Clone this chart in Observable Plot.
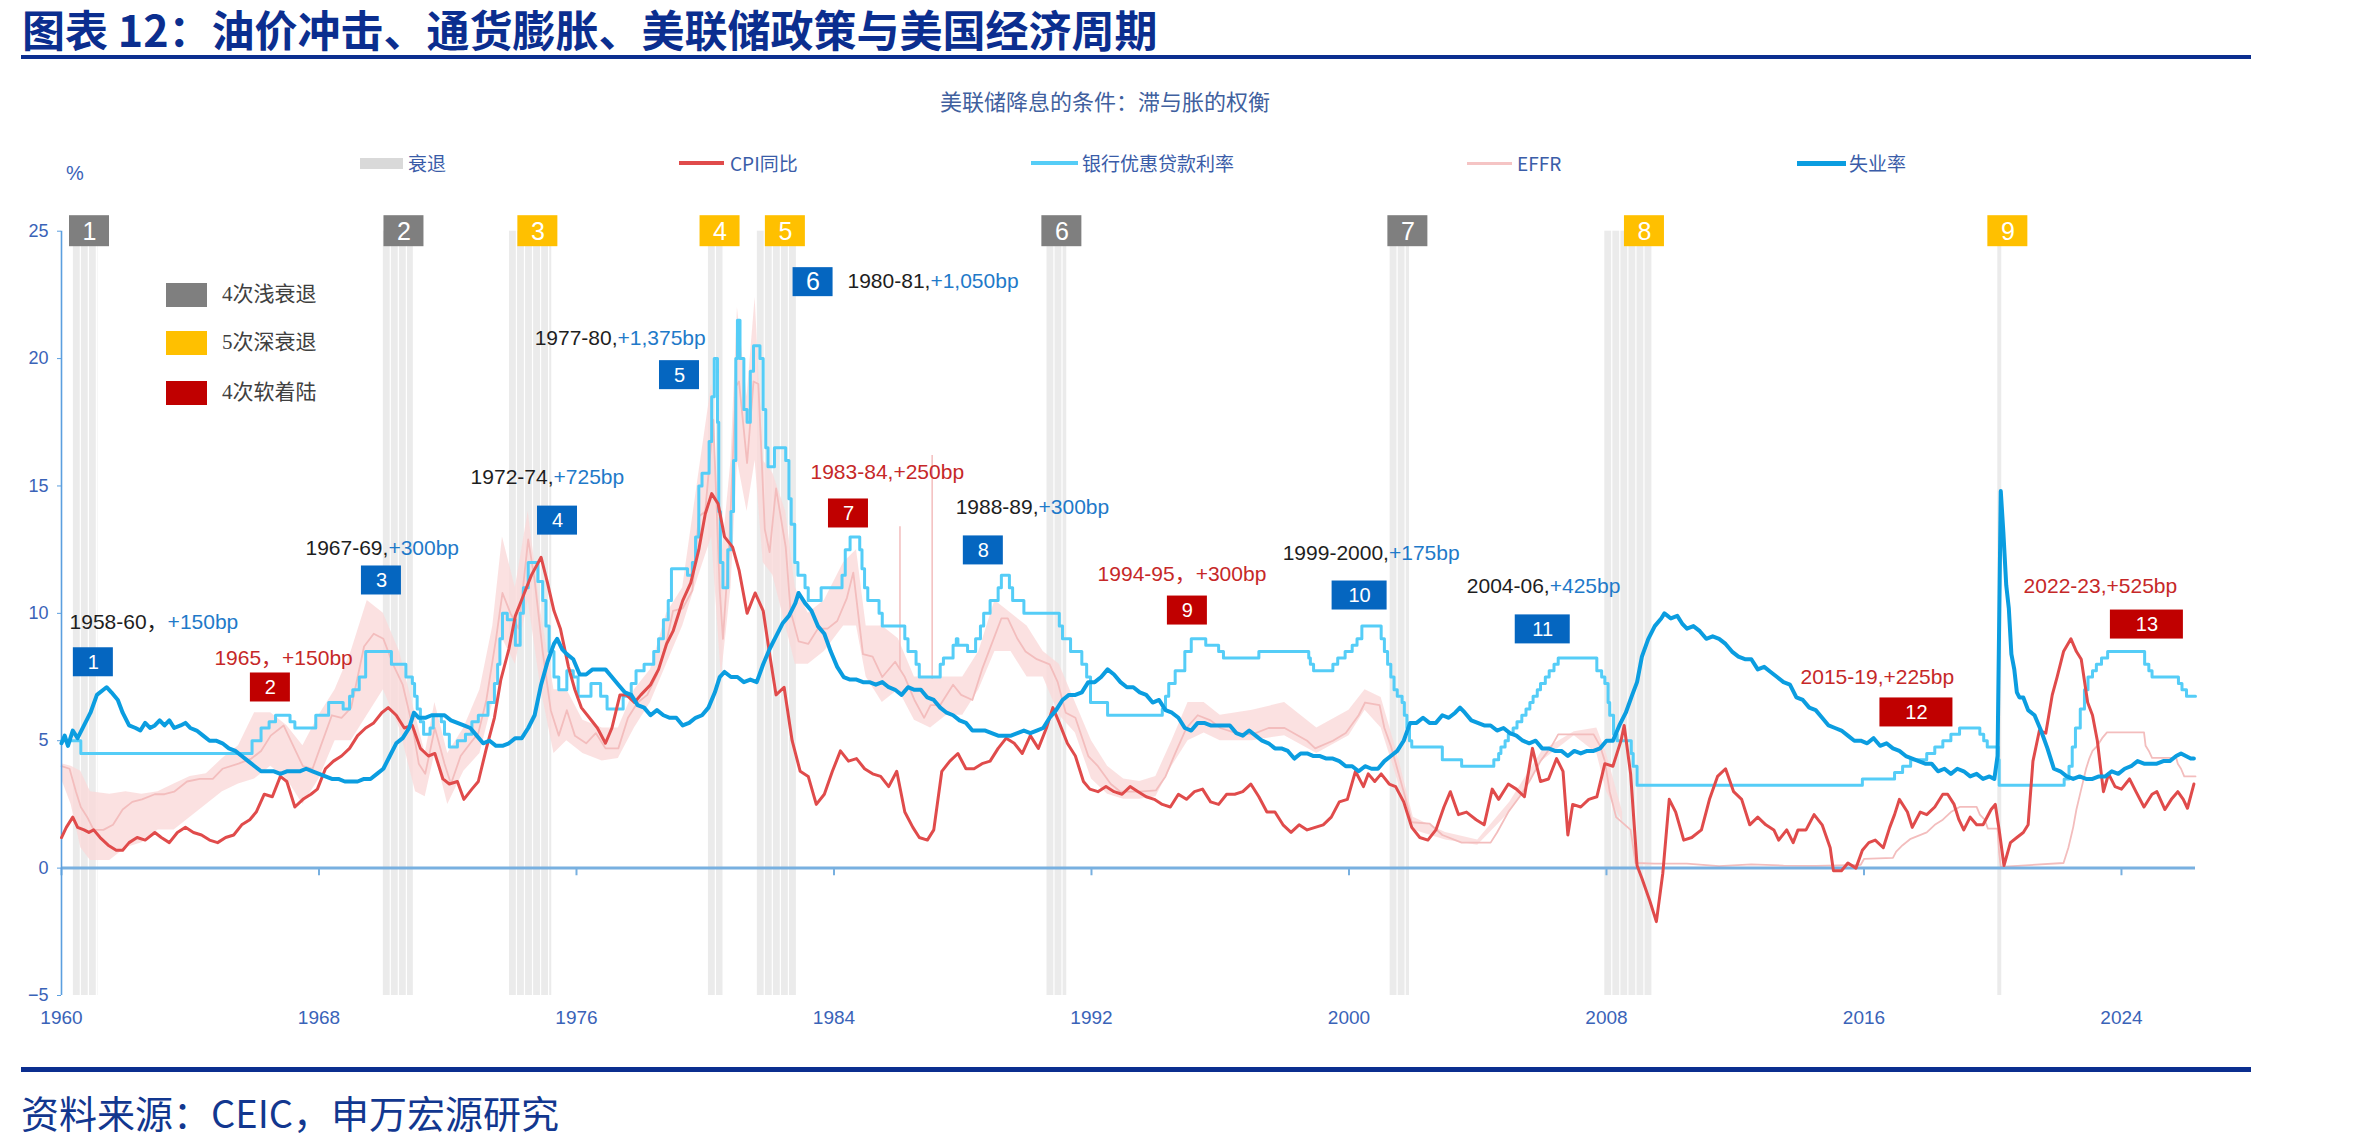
<!DOCTYPE html>
<html>
<head>
<meta charset="utf-8">
<script src="https://cdn.jsdelivr.net/npm/d3@7"></script>
<script src="https://cdn.jsdelivr.net/npm/@observablehq/plot@0.6"></script>
<style>
  html, body { margin: 0; padding: 0; background: #fff; }
  body { width: 2355px; height: 1145px; position: relative; overflow: hidden; font-family: "Noto Sans CJK SC", "Liberation Sans", sans-serif; }
  .abs { position: absolute; white-space: nowrap; }
  .leg-text { font-size: 19px; line-height: 19px; color: #3a5ca8; }
  .inleg-text { font-family: "Liberation Serif", "Noto Sans CJK SC", serif; font-size: 21px; line-height: 21px; color: #404040; }
</style>
</head>
<body>
<div class="abs" style="left:22px; top:7px; font-size:43px; line-height:43px; font-weight:700; color:#0b2e8f;">图表 12：油价冲击、通货膨胀、美联储政策与美国经济周期</div>
<div class="abs" style="left:21px; top:55px; width:2230px; height:4px; background:#0b2e8f;"></div>
<div class="abs" style="left:940px; top:89px; font-size:22px; line-height:22px; color:#40609e;">美联储降息的条件：滞与胀的权衡</div>
<div class="abs" style="left:66px; top:163px; font-family:'Liberation Sans',Arial,sans-serif; font-size:20px; line-height:20px; color:#3a63b8;">%</div>
<div id="legend"></div>
<div id="chart" class="abs" style="left:0; top:195px;"></div>
<div id="inlegend"></div>
<div class="abs" style="left:21px; top:1067px; width:2230px; height:5px; background:#0b2e8f;"></div>
<div class="abs" style="left:21px; top:1093px; font-size:38px; line-height:38px; color:#12378f;">资料来源：CEIC，申万宏源研究</div>

<script>
// ---------------- DATA ----------------
// Unemployment rate (%), [year, value]
const unemployment = [
[1960.0,4.9],[1960.1,5.2],[1960.2,4.8],[1960.35,5.4],[1960.5,5.1],[1960.7,5.6],[1960.9,6.1],[1961.1,6.8],[1961.3,7.0],[1961.4,7.1],[1961.55,6.9],[1961.75,6.6],[1961.9,6.1],
[1962.1,5.6],[1962.3,5.5],[1962.45,5.4],[1962.6,5.7],[1962.75,5.5],[1962.9,5.6],[1963.05,5.8],[1963.2,5.6],[1963.35,5.8],[1963.5,5.5],[1963.7,5.6],[1963.85,5.7],
[1964.0,5.5],[1964.2,5.4],[1964.4,5.2],[1964.6,5.0],[1964.8,5.0],[1965.0,4.9],[1965.2,4.7],[1965.4,4.6],[1965.6,4.4],[1965.8,4.2],[1966.0,4.0],[1966.2,3.8],
[1966.4,3.8],[1966.6,3.8],[1966.8,3.7],[1967.0,3.8],[1967.2,3.8],[1967.4,3.8],[1967.6,3.9],[1967.8,3.8],[1968.0,3.7],[1968.2,3.6],[1968.4,3.5],[1968.6,3.5],
[1968.8,3.4],[1969.0,3.4],[1969.2,3.4],[1969.4,3.5],[1969.6,3.5],[1969.8,3.7],[1970.0,3.9],[1970.2,4.4],[1970.4,4.9],[1970.6,5.1],[1970.8,5.5],[1970.95,6.1],
[1971.1,5.9],[1971.3,5.9],[1971.5,6.0],[1971.7,6.0],[1971.9,6.0],[1972.1,5.8],[1972.3,5.7],[1972.5,5.6],[1972.7,5.5],[1972.9,5.2],[1973.1,4.9],[1973.3,5.0],
[1973.5,4.8],[1973.7,4.8],[1973.9,4.9],[1974.1,5.1],[1974.3,5.1],[1974.5,5.5],[1974.7,6.0],[1974.9,7.2],[1975.1,8.1],[1975.3,8.8],[1975.4,9.0],[1975.55,8.6],
[1975.7,8.4],[1975.9,8.2],[1976.1,7.6],[1976.3,7.6],[1976.5,7.8],[1976.7,7.8],[1976.9,7.8],[1977.1,7.5],[1977.3,7.2],[1977.5,6.9],[1977.7,6.8],[1977.9,6.4],
[1978.1,6.3],[1978.3,6.0],[1978.5,6.2],[1978.7,6.0],[1978.9,5.9],[1979.1,5.9],[1979.3,5.6],[1979.5,5.7],[1979.7,5.9],[1979.9,6.0],[1980.1,6.3],[1980.3,6.9],
[1980.45,7.5],[1980.6,7.7],[1980.8,7.5],[1981.0,7.5],[1981.2,7.3],[1981.4,7.4],[1981.6,7.3],[1981.8,8.0],[1982.0,8.6],[1982.2,9.1],[1982.4,9.6],[1982.6,9.9],
[1982.8,10.4],[1982.9,10.8],[1983.1,10.4],[1983.3,10.1],[1983.5,9.5],[1983.7,9.2],[1983.9,8.5],[1984.1,7.9],[1984.3,7.5],[1984.5,7.4],[1984.7,7.4],[1984.9,7.3],
[1985.1,7.3],[1985.3,7.2],[1985.5,7.3],[1985.7,7.1],[1985.9,7.0],[1986.1,6.8],[1986.3,7.1],[1986.5,7.0],[1986.7,7.0],[1986.9,6.7],[1987.1,6.6],[1987.3,6.3],
[1987.5,6.1],[1987.7,6.0],[1987.9,5.8],[1988.1,5.7],[1988.3,5.4],[1988.5,5.4],[1988.7,5.4],[1988.9,5.3],[1989.1,5.2],[1989.3,5.2],[1989.5,5.2],[1989.7,5.3],
[1989.9,5.4],[1990.1,5.3],[1990.3,5.4],[1990.5,5.5],[1990.7,5.9],[1990.9,6.2],[1991.1,6.6],[1991.3,6.8],[1991.5,6.8],[1991.7,6.9],[1991.9,7.3],[1992.1,7.3],
[1992.3,7.5],[1992.5,7.8],[1992.7,7.6],[1992.9,7.3],[1993.1,7.1],[1993.3,7.1],[1993.5,6.9],[1993.7,6.8],[1993.9,6.5],[1994.1,6.6],[1994.3,6.2],[1994.5,6.1],
[1994.7,5.9],[1994.9,5.5],[1995.1,5.4],[1995.3,5.7],[1995.5,5.7],[1995.7,5.6],[1995.9,5.6],[1996.1,5.6],[1996.3,5.6],[1996.5,5.3],[1996.7,5.2],[1996.9,5.4],
[1997.1,5.2],[1997.3,5.0],[1997.5,4.9],[1997.7,4.7],[1997.9,4.7],[1998.1,4.6],[1998.3,4.3],[1998.5,4.5],[1998.7,4.5],[1998.9,4.4],[1999.1,4.4],[1999.3,4.3],
[1999.5,4.3],[1999.7,4.2],[1999.9,4.0],[2000.1,4.0],[2000.3,3.8],[2000.5,4.0],[2000.7,3.9],[2000.9,3.9],[2001.1,4.2],[2001.3,4.4],[2001.5,4.6],[2001.7,5.0],
[2001.9,5.7],[2002.1,5.7],[2002.3,5.9],[2002.5,5.7],[2002.7,5.7],[2002.9,6.0],[2003.1,5.9],[2003.3,6.1],[2003.45,6.3],[2003.6,6.1],[2003.8,5.8],[2004.0,5.7],
[2004.2,5.6],[2004.4,5.6],[2004.6,5.4],[2004.8,5.5],[2005.0,5.3],[2005.2,5.2],[2005.4,5.0],[2005.6,4.9],[2005.8,5.0],[2006.0,4.7],[2006.2,4.7],[2006.4,4.6],
[2006.6,4.6],[2006.8,4.4],[2007.0,4.6],[2007.2,4.5],[2007.4,4.6],[2007.6,4.6],[2007.8,4.7],[2008.0,5.0],[2008.2,5.0],[2008.4,5.6],[2008.6,6.1],[2008.8,6.8],
[2008.95,7.3],[2009.1,8.3],[2009.3,9.0],[2009.5,9.5],[2009.7,9.8],[2009.8,10.0],[2009.9,9.9],[2010.0,9.8],[2010.2,9.9],[2010.35,9.6],[2010.5,9.4],[2010.7,9.5],
[2010.9,9.3],[2011.1,9.0],[2011.3,9.1],[2011.5,9.0],[2011.7,8.8],[2011.9,8.5],[2012.1,8.3],[2012.3,8.2],[2012.5,8.2],[2012.7,7.8],[2012.9,7.9],[2013.1,7.7],
[2013.3,7.5],[2013.5,7.3],[2013.7,7.2],[2013.9,6.7],[2014.1,6.6],[2014.3,6.3],[2014.5,6.2],[2014.7,5.9],[2014.9,5.6],[2015.1,5.5],[2015.3,5.4],[2015.5,5.2],
[2015.7,5.0],[2015.9,5.0],[2016.1,4.9],[2016.3,5.1],[2016.5,4.8],[2016.7,4.9],[2016.9,4.7],[2017.1,4.6],[2017.3,4.4],[2017.5,4.3],[2017.7,4.2],[2017.9,4.1],
[2018.1,4.1],[2018.3,3.8],[2018.5,3.9],[2018.7,3.7],[2018.9,3.9],[2019.1,3.8],[2019.3,3.6],[2019.5,3.7],[2019.7,3.5],[2019.9,3.6],[2020.05,3.5],[2020.15,4.4],
[2020.25,14.8],[2020.33,13.2],[2020.42,11.1],[2020.5,10.2],[2020.58,8.4],[2020.67,7.8],[2020.75,6.9],[2020.83,6.7],[2020.95,6.7],[2021.1,6.2],[2021.3,6.0],
[2021.5,5.4],[2021.7,4.7],[2021.9,3.9],[2022.1,3.8],[2022.3,3.6],[2022.5,3.5],[2022.7,3.6],[2022.9,3.5],[2023.1,3.5],[2023.3,3.6],[2023.5,3.6],[2023.7,3.8],
[2023.9,3.7],[2024.1,3.9],[2024.3,4.0],[2024.5,4.2],[2024.7,4.1],[2024.9,4.1],[2025.1,4.1],[2025.3,4.2],[2025.5,4.2],[2025.7,4.4],[2025.85,4.5],[2026.0,4.4],
[2026.15,4.3],[2026.25,4.3]
];

// CPI year-on-year (%), [year, value]
const cpi = [
[1960.0,1.2],[1960.15,1.6],[1960.35,2.0],[1960.5,1.6],[1960.7,1.5],[1960.85,1.4],[1961.0,1.5],[1961.2,1.2],[1961.45,0.9],[1961.7,0.7],[1961.9,0.7],
[1962.1,1.0],[1962.35,1.2],[1962.6,1.1],[1962.9,1.4],[1963.1,1.2],[1963.35,1.0],[1963.6,1.4],[1963.85,1.6],[1964.1,1.4],[1964.35,1.3],[1964.6,1.1],[1964.85,1.0],
[1965.1,1.2],[1965.35,1.3],[1965.6,1.7],[1965.85,1.9],[1966.05,2.2],[1966.3,2.9],[1966.55,2.8],[1966.8,3.6],[1967.0,3.4],[1967.25,2.4],[1967.5,2.7],[1967.75,2.9],
[1967.95,3.1],[1968.2,3.9],[1968.45,4.2],[1968.7,4.4],[1968.95,4.7],[1969.2,5.2],[1969.45,5.5],[1969.7,5.7],[1969.95,6.1],[1970.15,6.3],[1970.4,6.0],[1970.65,5.5],
[1970.9,5.6],[1971.15,4.7],[1971.4,4.4],[1971.6,4.5],[1971.85,3.5],[1972.05,3.3],[1972.3,3.4],[1972.5,2.7],[1972.75,3.1],[1972.95,3.4],[1973.2,4.7],[1973.45,5.9],
[1973.65,7.4],[1973.9,8.6],[1974.1,9.9],[1974.35,10.7],[1974.6,11.5],[1974.9,12.2],[1975.1,11.2],[1975.3,10.1],[1975.5,9.4],[1975.75,7.9],[1975.95,7.0],[1976.15,6.3],
[1976.4,5.9],[1976.65,5.5],[1976.9,4.9],[1977.1,5.5],[1977.35,6.8],[1977.55,6.8],[1977.8,6.5],[1978.0,6.8],[1978.3,7.2],[1978.55,7.8],[1978.8,8.8],[1979.0,9.3],
[1979.3,10.5],[1979.55,11.2],[1979.8,12.5],[1980.0,13.9],[1980.2,14.7],[1980.4,14.3],[1980.6,13.0],[1980.85,12.6],[1981.05,11.7],[1981.3,10.0],[1981.55,10.8],
[1981.8,10.1],[1982.0,8.4],[1982.2,6.8],[1982.45,7.1],[1982.7,5.0],[1982.95,3.8],[1983.2,3.6],[1983.45,2.5],[1983.7,2.9],[1983.95,3.8],[1984.2,4.6],[1984.45,4.2],
[1984.7,4.3],[1984.95,3.9],[1985.2,3.7],[1985.45,3.6],[1985.7,3.2],[1985.95,3.8],[1986.2,2.2],[1986.45,1.6],[1986.65,1.2],[1986.9,1.1],[1987.1,1.5],[1987.35,3.8],
[1987.6,4.2],[1987.85,4.5],[1988.1,3.9],[1988.35,3.9],[1988.6,4.1],[1988.85,4.2],[1989.1,4.7],[1989.35,5.1],[1989.6,4.9],[1989.85,4.5],[1990.1,5.2],[1990.35,4.7],
[1990.6,5.5],[1990.8,6.3],[1991.0,5.7],[1991.25,4.9],[1991.5,4.4],[1991.75,3.4],[1991.95,3.1],[1992.2,3.0],[1992.45,3.2],[1992.7,3.0],[1992.95,2.9],[1993.2,3.2],
[1993.45,3.0],[1993.7,2.8],[1993.95,2.7],[1994.2,2.5],[1994.45,2.4],[1994.7,2.9],[1994.95,2.7],[1995.2,3.0],[1995.45,3.1],[1995.7,2.6],[1995.95,2.5],[1996.2,2.9],
[1996.45,2.9],[1996.7,3.0],[1996.95,3.3],[1997.2,2.8],[1997.45,2.2],[1997.7,2.2],[1997.95,1.7],[1998.2,1.4],[1998.45,1.7],[1998.7,1.5],[1998.95,1.6],[1999.2,1.7],
[1999.45,2.0],[1999.7,2.6],[1999.95,2.7],[2000.2,3.8],[2000.45,3.2],[2000.6,3.7],[2000.8,3.4],[2001.0,3.7],[2001.25,3.3],[2001.45,3.2],[2001.7,2.6],[2001.95,1.6],
[2002.2,1.2],[2002.45,1.1],[2002.7,1.5],[2002.95,2.4],[2003.15,3.0],[2003.4,2.1],[2003.65,2.2],[2003.95,1.9],[2004.2,1.7],[2004.45,3.1],[2004.65,2.7],[2004.95,3.3],
[2005.2,3.1],[2005.45,2.8],[2005.7,4.7],[2005.95,3.4],[2006.2,3.5],[2006.45,4.3],[2006.65,3.8],[2006.8,1.3],[2006.95,2.5],[2007.2,2.4],[2007.45,2.7],[2007.7,2.8],
[2007.95,4.1],[2008.2,4.0],[2008.45,5.0],[2008.55,5.6],[2008.75,3.7],[2008.95,0.1],[2009.1,-0.4],[2009.35,-1.3],[2009.55,-2.1],[2009.75,-0.2],[2009.95,2.7],
[2010.15,2.2],[2010.4,1.1],[2010.65,1.2],[2010.95,1.5],[2011.2,2.7],[2011.45,3.6],[2011.7,3.9],[2011.95,3.0],[2012.2,2.7],[2012.45,1.7],[2012.7,2.0],[2012.95,1.7],
[2013.2,1.5],[2013.35,1.1],[2013.6,1.5],[2013.8,1.0],[2013.95,1.5],[2014.2,1.5],[2014.45,2.1],[2014.7,1.7],[2014.95,0.8],[2015.05,-0.1],[2015.3,-0.1],[2015.5,0.2],
[2015.75,0.0],[2015.95,0.7],[2016.15,1.0],[2016.35,1.1],[2016.6,0.8],[2016.8,1.6],[2016.95,2.1],[2017.1,2.7],[2017.35,2.2],[2017.5,1.6],[2017.75,2.2],[2017.95,2.1],
[2018.2,2.4],[2018.45,2.9],[2018.6,2.9],[2018.8,2.5],[2018.95,1.9],[2019.1,1.5],[2019.3,2.0],[2019.5,1.7],[2019.7,1.7],[2019.95,2.3],[2020.08,2.5],[2020.2,1.5],
[2020.35,0.1],[2020.55,1.0],[2020.75,1.2],[2020.95,1.4],[2021.1,1.7],[2021.25,4.2],[2021.45,5.4],[2021.65,5.3],[2021.85,6.8],[2022.0,7.5],[2022.2,8.5],[2022.43,9.0],
[2022.6,8.5],[2022.75,8.2],[2022.95,6.5],[2023.1,6.0],[2023.25,5.0],[2023.44,3.0],[2023.6,3.7],[2023.8,3.2],[2024.0,3.1],[2024.25,3.5],[2024.45,3.0],[2024.7,2.4],
[2024.95,2.9],[2025.1,3.0],[2025.35,2.3],[2025.55,2.7],[2025.75,3.0],[2025.92,2.7],[2026.05,2.35],[2026.25,3.3]
];

// Bank prime loan rate (%), step changes [year, value]
const prime = [
[1960.0,5.0],[1960.6,4.5],[1965.92,5.0],[1966.2,5.5],[1966.45,5.75],[1966.65,6.0],[1967.1,5.75],[1967.25,5.5],[1967.9,6.0],[1968.3,6.5],[1968.75,6.25],[1968.95,6.75],
[1969.05,7.0],[1969.25,7.5],[1969.45,8.5],[1970.25,8.0],[1970.7,7.5],[1970.9,7.25],[1970.97,6.75],[1971.05,6.25],[1971.15,5.75],[1971.25,5.25],[1971.45,5.5],
[1971.55,6.0],[1971.8,5.75],[1971.9,5.25],[1972.05,4.75],[1972.3,5.0],[1972.55,5.25],[1972.75,5.75],[1972.95,6.0],[1973.25,6.5],[1973.45,7.25],[1973.55,8.0],
[1973.62,9.0],[1973.7,10.0],[1973.85,9.75],[1974.1,8.75],[1974.25,10.0],[1974.35,11.0],[1974.5,12.0],[1974.8,11.25],[1974.95,10.5],[1975.05,9.5],[1975.15,8.5],
[1975.3,7.5],[1975.45,7.0],[1975.7,7.75],[1975.9,7.5],[1976.05,6.75],[1976.45,7.25],[1976.75,6.75],[1976.95,6.25],[1977.45,6.75],[1977.7,7.25],[1977.85,7.75],
[1978.1,8.0],[1978.4,8.5],[1978.55,9.0],[1978.7,9.75],[1978.85,10.5],[1978.95,11.75],[1979.45,11.5],[1979.6,12.0],[1979.7,13.0],[1979.8,15.0],[1979.9,15.5],
[1980.12,16.75],[1980.2,18.5],[1980.28,20.0],[1980.38,17.5],[1980.42,14.0],[1980.47,12.0],[1980.55,11.0],[1980.7,12.5],[1980.8,14.0],[1980.88,16.0],[1980.95,20.0],
[1981.0,21.5],[1981.08,20.0],[1981.2,18.0],[1981.3,17.5],[1981.4,19.5],[1981.5,20.5],[1981.7,20.0],[1981.8,18.0],[1981.88,16.5],[1981.95,15.75],[1982.15,16.5],
[1982.5,16.0],[1982.6,14.5],[1982.67,13.5],[1982.78,12.0],[1982.88,11.5],[1983.1,11.0],[1983.2,10.5],[1983.6,11.0],[1984.25,11.5],[1984.35,12.5],[1984.5,13.0],
[1984.8,12.5],[1984.87,11.75],[1984.95,11.0],[1985.05,10.5],[1985.4,10.0],[1985.5,9.5],[1986.2,9.0],[1986.3,8.5],[1986.55,8.0],[1986.65,7.5],[1987.3,8.0],
[1987.4,8.25],[1987.7,8.75],[1987.8,9.0],[1987.85,8.75],[1988.15,8.5],[1988.4,9.0],[1988.55,9.5],[1988.65,10.0],[1988.85,10.5],[1989.1,11.0],[1989.2,11.5],
[1989.45,11.0],[1989.55,10.5],[1989.9,10.0],[1991.0,9.5],[1991.1,9.0],[1991.35,8.5],[1991.7,8.0],[1991.85,7.5],[1991.97,6.5],[1992.5,6.0],[1994.2,6.25],
[1994.3,6.75],[1994.4,7.25],[1994.6,7.75],[1994.9,8.5],[1995.1,9.0],[1995.55,8.75],[1995.95,8.5],[1996.1,8.25],[1997.2,8.5],[1998.75,8.25],[1998.8,8.0],
[1998.9,7.75],[1999.5,8.0],[1999.65,8.25],[1999.88,8.5],[2000.1,8.75],[2000.25,9.0],[2000.4,9.5],[2001.0,9.0],[2001.1,8.5],[2001.2,8.0],[2001.3,7.5],[2001.4,7.0],
[2001.5,6.75],[2001.65,6.5],[2001.72,6.0],[2001.8,5.5],[2001.88,5.0],[2001.95,4.75],[2002.9,4.25],[2003.5,4.0],[2004.5,4.25],[2004.65,4.5],[2004.72,4.75],
[2004.85,5.0],[2004.95,5.25],[2005.1,5.5],[2005.22,5.75],[2005.37,6.0],[2005.5,6.25],[2005.62,6.5],[2005.72,6.75],[2005.85,7.0],[2005.95,7.25],[2006.1,7.5],
[2006.22,7.75],[2006.37,8.0],[2006.5,8.25],[2007.7,7.75],[2007.85,7.5],[2007.95,7.25],[2008.05,6.5],[2008.1,6.0],[2008.22,5.25],[2008.33,5.0],[2008.77,4.5],
[2008.83,4.0],[2008.95,3.25],[2015.95,3.5],[2016.95,3.75],[2017.2,4.0],[2017.45,4.25],[2017.95,4.5],[2018.2,4.75],[2018.45,5.0],[2018.7,5.25],[2018.97,5.5],
[2019.6,5.25],[2019.72,5.0],[2019.83,4.75],[2020.17,4.25],[2020.2,3.25],[2022.22,3.5],[2022.37,4.0],[2022.47,4.75],[2022.57,5.5],[2022.72,6.25],[2022.85,7.0],
[2022.96,7.5],[2023.1,7.75],[2023.22,8.0],[2023.38,8.25],[2023.57,8.5],[2024.72,8.0],[2024.85,7.75],[2024.95,7.5],[2025.77,7.25],[2025.88,7.0],[2026.02,6.75],
[2026.3,6.75]
];

// Effective federal funds rate (%), [year, value]
const effr = [
[1960.0,4.0],[1960.25,3.9],[1960.45,3.0],[1960.6,2.4],[1960.8,2.0],[1961.0,1.5],[1961.3,1.5],[1961.6,1.7],[1961.9,2.3],[1962.2,2.6],[1962.5,2.7],[1962.9,2.9],
[1963.2,2.9],[1963.5,3.0],[1963.9,3.4],[1964.3,3.5],[1964.7,3.5],[1965.0,3.9],[1965.5,4.1],[1965.9,4.3],[1966.2,4.6],[1966.5,5.2],[1966.9,5.6],[1967.2,4.8],
[1967.5,4.0],[1967.8,3.9],[1968.0,4.6],[1968.4,6.0],[1968.7,5.9],[1969.0,6.3],[1969.4,8.7],[1969.7,9.2],[1970.0,9.0],[1970.3,8.0],[1970.6,7.2],[1970.9,5.6],
[1971.1,4.1],[1971.3,3.7],[1971.6,5.5],[1971.9,4.1],[1972.1,3.3],[1972.4,4.4],[1972.7,4.9],[1972.95,5.3],[1973.2,6.6],[1973.5,9.0],[1973.7,10.8],[1973.95,10.0],
[1974.2,9.4],[1974.5,12.9],[1974.7,11.3],[1974.95,8.5],[1975.2,6.2],[1975.45,5.2],[1975.7,6.2],[1975.95,5.2],[1976.3,4.9],[1976.6,5.3],[1976.9,4.7],[1977.3,4.7],
[1977.6,5.9],[1977.9,6.5],[1978.2,6.8],[1978.5,7.6],[1978.8,8.9],[1979.0,10.1],[1979.3,10.2],[1979.6,10.9],[1979.8,13.8],[1980.0,14.0],[1980.25,17.6],
[1980.45,10.9],[1980.55,9.0],[1980.75,12.8],[1980.95,18.9],[1981.05,19.1],[1981.3,15.9],[1981.5,19.1],[1981.65,19.0],[1981.85,13.3],[1982.0,12.4],[1982.2,14.9],
[1982.5,12.6],[1982.65,10.1],[1982.9,8.9],[1983.2,8.8],[1983.5,9.4],[1983.8,9.4],[1984.1,9.7],[1984.4,10.6],[1984.6,11.6],[1984.9,8.4],[1985.2,8.3],[1985.5,7.5],
[1985.9,8.1],[1986.2,7.5],[1986.5,6.6],[1986.8,5.9],[1987.0,6.4],[1987.3,6.4],[1987.7,7.2],[1987.95,6.8],[1988.3,6.6],[1988.6,7.8],[1988.9,8.8],[1989.2,9.8],
[1989.4,9.8],[1989.7,9.0],[1989.95,8.5],[1990.3,8.2],[1990.7,8.0],[1990.95,7.3],[1991.2,6.1],[1991.5,5.9],[1991.9,4.4],[1992.2,4.0],[1992.6,3.3],[1992.9,3.0],
[1993.5,3.0],[1994.0,3.05],[1994.3,3.6],[1994.6,4.5],[1994.95,5.5],[1995.3,6.0],[1995.7,5.8],[1996.0,5.5],[1996.5,5.3],[1997.0,5.25],[1997.5,5.5],[1998.0,5.5],
[1998.7,5.0],[1998.95,4.7],[1999.5,5.0],[1999.9,5.3],[2000.3,6.0],[2000.5,6.5],[2000.95,6.4],[2001.1,5.5],[2001.3,4.8],[2001.5,3.9],[2001.7,3.0],[2001.95,1.8],
[2002.5,1.75],[2002.9,1.3],[2003.5,1.0],[2004.4,1.0],[2004.6,1.4],[2004.95,2.2],[2005.3,2.8],[2005.6,3.4],[2005.95,4.2],[2006.3,4.8],[2006.5,5.25],[2007.6,5.25],
[2007.8,4.8],[2007.95,4.2],[2008.1,3.0],[2008.3,2.0],[2008.75,1.5],[2008.9,0.2],[2009.5,0.18],[2010.5,0.18],[2011.5,0.08],[2012.5,0.15],[2013.5,0.1],[2014.5,0.09],
[2015.9,0.13],[2016.0,0.36],[2016.9,0.4],[2017.0,0.65],[2017.2,0.9],[2017.45,1.15],[2017.95,1.4],[2018.2,1.7],[2018.45,1.9],[2018.7,2.2],[2018.97,2.4],[2019.5,2.4],
[2019.6,2.1],[2019.75,1.9],[2019.85,1.55],[2020.15,1.55],[2020.2,0.6],[2020.25,0.05],[2022.2,0.2],[2022.35,0.8],[2022.5,1.6],[2022.6,2.3],[2022.75,3.1],
[2022.9,3.9],[2023.0,4.3],[2023.1,4.6],[2023.25,4.8],[2023.4,5.1],[2023.55,5.33],[2024.7,5.33],[2024.75,4.8],[2024.85,4.6],[2024.95,4.33],[2025.7,4.33],
[2025.75,4.1],[2025.85,3.9],[2025.95,3.6],[2026.3,3.6]
];

// EFFR daily range (daily volatility band), [year, low, high]
const effrBand = [
[1960.0,3.5,4.1],[1960.3,2.5,4.0],[1960.6,0.8,3.8],[1960.9,0.3,3.0],[1961.5,0.3,2.9],[1962.0,0.8,3.0],[1962.5,1.0,2.9],[1963.0,1.5,3.0],[1963.5,1.5,3.3],
[1964.0,2.0,3.6],[1964.5,2.5,3.7],[1965.0,3.0,4.3],[1965.5,3.3,4.8],[1966.0,3.5,6.1],[1966.5,4.0,6.1],[1967.0,3.5,5.6],[1967.5,2.5,4.8],[1968.0,3.5,6.0],
[1968.5,5.0,7.0],[1969.0,5.0,8.5],[1969.5,6.0,10.5],[1970.0,7.0,10.0],[1970.5,5.5,8.5],[1971.0,3.0,6.0],[1971.3,2.8,4.5],[1971.6,4.5,6.5],[1972.0,2.5,4.5],
[1972.5,3.8,5.5],[1973.0,4.5,7.0],[1973.4,6.5,9.5],[1973.7,9.0,13.0],[1974.1,8.0,11.0],[1974.5,10.5,14.0],[1974.9,7.0,10.0],[1975.3,4.5,7.0],[1975.7,5.0,7.0],
[1976.2,4.5,5.8],[1976.8,4.2,5.5],[1977.3,4.3,5.5],[1977.8,5.5,7.0],[1978.3,6.5,7.8],[1978.8,8.0,10.0],[1979.3,9.5,11.0],[1979.8,11.5,15.5],[1980.2,13.0,19.0],
[1980.5,7.5,12.0],[1980.8,11.0,16.0],[1981.0,16.0,22.0],[1981.3,14.0,18.5],[1981.55,16.0,22.4],[1981.8,12.0,16.0],[1982.1,11.5,15.5],[1982.5,9.5,14.0],
[1982.8,8.0,11.0],[1983.2,8.0,10.0],[1983.7,8.5,10.5],[1984.3,9.5,12.0],[1984.7,9.5,12.5],[1985.0,7.5,9.5],[1985.5,6.5,9.5],[1986.0,7.0,9.0],[1986.5,5.8,7.5],
[1987.0,5.5,7.5],[1987.5,6.0,7.5],[1988.0,6.0,7.5],[1988.5,7.0,8.5],[1989.0,8.5,10.5],[1989.5,8.5,10.0],[1990.0,7.5,9.5],[1990.5,7.5,8.5],[1991.0,6.0,8.0],
[1991.5,5.3,6.5],[1992.0,3.5,5.0],[1992.5,2.9,4.0],[1993.0,2.7,3.5],[1993.5,2.7,3.4],[1994.0,2.8,3.6],[1994.5,4.0,5.0],[1995.0,5.0,6.5],[1995.5,5.3,6.5],
[1996.0,5.0,6.0],[1997.0,5.0,6.2],[1998.0,5.2,6.5],[1999.0,4.5,5.5],[2000.0,5.2,6.2],[2000.5,6.2,7.0],[2001.0,5.5,6.7],[2001.5,3.5,4.5],[2002.0,1.5,2.0],
[2003.0,1.1,1.4],[2004.0,0.9,1.1],[2005.0,2.2,2.6],[2006.0,4.2,4.6],[2007.0,5.2,5.35],[2007.7,4.5,5.5],[2008.0,3.0,4.5],[2008.5,1.8,2.2]
];

// EFFR year-end spikes, [year, from, to]
const effrSpikes = [[1986.05,7.8,13.4],[1987.05,7.4,16.2]];

// Recessions (numbered 1-9)
const recNo    = [1,2,3,4,5,6,7,8,9];
const recStart = [1960.35,1969.98,1973.9,1980.08,1981.6,1990.6,2001.26,2007.93,2020.14];
const recEnd   = [1961.15,1970.95,1975.25,1980.57,1982.86,1991.25,2001.9,2009.46,2020.3];
const recLabelX = [1960.87,1970.64,1974.80,1980.46,1982.49,1991.08,2001.83,2009.18,2020.47];
const recKind  = ["浅","浅","深","深","深","浅","浅","深","深"];

// Fed hiking cycles (numbered 1-13)
const annNo     = [1,2,3,4,5,6,7,8,9,10,11,12,13];
const annKind   = ["衰退","软着陆","衰退","衰退","衰退","衰退","软着陆","衰退","软着陆","衰退","衰退","软着陆","软着陆"];
const annPeriod = ["1958-60，","1965，","1967-69,","1972-74,","1977-80,","1980-81,","1983-84,","1988-89,","1994-95，","1999-2000,","2004-06,","2015-19,","2022-23,"];
const annBp     = ["+150bp","+150bp","+300bp","+725bp","+1,375bp","+1,050bp","+250bp","+300bp","+300bp","+175bp","+425bp","+225bp","+525bp"];
const annBoxX   = [1960.99,1966.49,1969.94,1975.41,1979.20,1983.35,1984.45,1988.64,1994.98,2000.33,2006.02,2017.63,2024.79];
const annBoxY   = [8.08,7.09,11.29,13.64,19.35,23.0,13.92,12.47,10.11,10.70,9.37,6.11,9.56];
const annLabelX = [1960.25,1964.75,1967.58,1972.71,1974.70,1984.42,1983.27,1987.78,1992.19,1997.94,2003.66,2014.03,2020.96];
const annLabelY = [9.64,8.22,12.54,15.33,20.79,23.02,15.53,14.15,11.52,12.35,11.06,7.48,11.06];

const xTicks = [1960,1968,1976,1984,1992,2000,2008,2016,2024];
const yTicks = [-5,0,5,10,15,20,25];

// legend entries
const legendNames = ["衰退","CPI同比","银行优惠贷款利率","EFFR","失业率"];
const inLegendNames = ["4次浅衰退","5次深衰退","4次软着陆"];

// ---------------- STYLE ----------------
const C = {
  cpi: "#e04b4b", prime: "#55cdf7", effr: "#f3bdbd", effrBand: "#fadada", unemp: "#0b9de0",
  zero: "#78b0e0", axis: "#5b9fdf", axisText: "#3a63b8",
  recBar: "#ebebeb", shallow: "#7f7f7f", deep: "#ffc000",
  hikeBox: "#0566c0", softBox: "#c00000", hikeText: "#1f7ac9", dark: "#1e1e1e", softText: "#c62828"
};
const W = 2355, H = 860, ML = 61, MR = W - 2195, MT = 35.7, MB = 60;
const X0 = 1960, X1 = 2026.3, Y0 = -5, Y1 = 25;
const PXX = (W - ML - MR) / (X1 - X0);
const PXY = (H - MT - MB) / (Y1 - Y0);

// recession stripes (quarterly slices)
const recSlices = [];
recNo.forEach((n, i) => {
  for (let t = recStart[i]; t < recEnd[i] - 1e-6; t += 0.25) {
    recSlices.push({x1: t, x2: Math.min(t + 0.25, recEnd[i])});
  }
});
const recs = recNo.map((n, i) => ({n, x: recLabelX[i], kind: recKind[i]}));
const anns = annNo.map((n, i) => ({
  n, kind: annKind[i], bx: annBoxX[i], by: annBoxY[i], lx: annLabelX[i], ly: annLabelY[i],
  period: annPeriod[i], bp: annBp[i],
  w: n < 10 ? 40 : (n < 12 ? 55 : 73)
}));
const RB_W = 40, RB_H = 31, AB_H = 29;

const chart = Plot.plot({
  width: W, height: H,
  marginLeft: ML, marginRight: MR, marginTop: MT, marginBottom: MB,
  x: {domain: [X0, X1]},
  y: {domain: [Y0, Y1]},
  style: {fontFamily: "'Liberation Sans', Arial, 'Noto Sans CJK SC', sans-serif", background: "transparent", overflow: "visible"},
  marks: [
    // recession bars
    Plot.rect(recSlices, {x1: "x1", x2: "x2", y1: Y0, y2: Y1, fill: C.recBar, insetLeft: 0.6, insetRight: 0.6}),
    // EFFR band + line + spikes
    Plot.areaY(effrBand, {x: d => d[0], y1: d => d[1], y2: d => d[2], fill: C.effrBand, fillOpacity: 0.8}),
    Plot.ruleX(effrSpikes, {x: d => d[0], y1: d => d[1], y2: d => d[2], stroke: C.effr, strokeWidth: 1.5}),
    Plot.line(effr, {x: d => d[0], y: d => d[1], stroke: C.effr, strokeWidth: 1.8}),
    // zero line & ticks
    Plot.ruleY([0], {stroke: C.zero, strokeWidth: 3}),
    Plot.ruleX(xTicks, {y1: 0, y2: -0.3, stroke: C.zero, strokeWidth: 2}),
    // y axis line
    Plot.ruleX([X0], {y1: Y0, y2: Y1, stroke: C.axis, strokeWidth: 1.6}),
    Plot.axisY({ticks: yTicks, tickSize: 4, tickPadding: 9, fontSize: 18, stroke: C.axis, fill: C.axisText}),
    Plot.axisX({ticks: xTicks, tickFormat: "d", tickSize: 0, tickPadding: 15, fontSize: 19, fill: C.axisText}),
    // series
    Plot.line(prime, {x: d => d[0], y: d => d[1], curve: "step-after", stroke: C.prime, strokeWidth: 3}),
    Plot.line(cpi, {x: d => d[0], y: d => d[1], stroke: C.cpi, strokeWidth: 3, strokeLinejoin: "round"}),
    Plot.line(unemployment, {x: d => d[0], y: d => d[1], stroke: C.unemp, strokeWidth: 4, strokeLinejoin: "round"}),
    // recession number boxes
    Plot.rect(recs, {
      x1: d => d.x - RB_W / 2 / PXX, x2: d => d.x + RB_W / 2 / PXX,
      y1: Y1 - RB_H / 2 / PXY, y2: Y1 + RB_H / 2 / PXY,
      fill: d => d.kind === "浅" ? C.shallow : C.deep
    }),
    Plot.text(recs, {x: "x", y: Y1, text: d => String(d.n), fill: "white", fontSize: 25, dy: 1}),
    // hiking-cycle boxes
    Plot.rect(anns, {
      x1: d => d.bx - d.w / 2 / PXX, x2: d => d.bx + d.w / 2 / PXX,
      y1: d => d.by - AB_H / 2 / PXY, y2: d => d.by + AB_H / 2 / PXY,
      fill: d => d.kind === "软着陆" ? C.softBox : C.hikeBox
    }),
    Plot.text(anns, {x: "bx", y: "by", text: d => String(d.n), fill: "white", fontSize: d => d.n === 6 ? 25 : 20}),
    Plot.text(anns, {x: "lx", y: "ly", text: d => d.period + d.bp, textAnchor: "start", fontSize: 21, fill: C.dark, className: "ann-label"})
  ]
});
document.getElementById("chart").appendChild(chart);

// colour the two parts of each cycle label
d3.select(chart).selectAll(".ann-label text").each(function(_, i) {
  const a = anns[i];
  const t = d3.select(this);
  t.text(null);
  const soft = a.kind === "软着陆";
  t.append("tspan").attr("fill", soft ? C.softText : C.dark).text(a.period);
  t.append("tspan").attr("fill", soft ? C.softText : C.hikeText).text(a.bp);
});

// ---------------- LEGENDS (HTML) ----------------
const legendSpec = [
  {swX: 360, swW: 43, swH: 11, color: "#d9d9d9", textX: 408},
  {swX: 679, swW: 45, swH: 4, color: C.cpi, textX: 730},
  {swX: 1031, swW: 47, swH: 4, color: C.prime, textX: 1082},
  {swX: 1467, swW: 45, swH: 3, color: "#f5c4c4", textX: 1517},
  {swX: 1797, swW: 49, swH: 5, color: C.unemp, textX: 1849}
];
const legEl = document.getElementById("legend");
legendNames.forEach((name, i) => {
  const s = legendSpec[i];
  const sw = document.createElement("div");
  sw.className = "abs";
  sw.style.cssText = `left:${s.swX}px; top:${163 - s.swH / 2}px; width:${s.swW}px; height:${s.swH}px; background:${s.color};`;
  legEl.appendChild(sw);
  const tx = document.createElement("div");
  tx.className = "abs leg-text";
  tx.style.cssText = `left:${s.textX}px; top:${163 - 10}px;`;
  tx.textContent = name;
  legEl.appendChild(tx);
});
const inLegColors = [C.shallow, C.deep, C.softBox];
const inLegY = [295, 342.5, 392.5];
const inLegEl = document.getElementById("inlegend");
inLegendNames.forEach((name, i) => {
  const sq = document.createElement("div");
  sq.className = "abs";
  sq.style.cssText = `left:166px; top:${inLegY[i] - 12}px; width:41px; height:24px; background:${inLegColors[i]};`;
  inLegEl.appendChild(sq);
  const tx = document.createElement("div");
  tx.className = "abs inleg-text";
  tx.style.cssText = `left:222px; top:${inLegY[i] - 11}px;`;
  tx.textContent = name;
  inLegEl.appendChild(tx);
});
</script>
</body>
</html>
